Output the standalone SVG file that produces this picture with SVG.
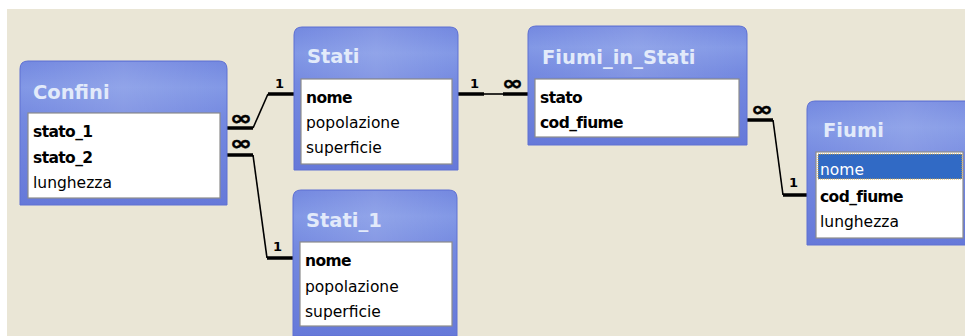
<svg xmlns="http://www.w3.org/2000/svg" width="965" height="336" viewBox="0 0 965 336">
  <defs>
    <linearGradient id="frameGrad" x1="0" y1="0" x2="0" y2="1">
      <stop offset="0" stop-color="#7388E0"/>
      <stop offset="0.18" stop-color="#8298E6"/>
      <stop offset="0.4" stop-color="#7489E0"/>
      <stop offset="1" stop-color="#6679D9"/>
    </linearGradient>
    <linearGradient id="sheen" x1="0" y1="0" x2="1" y2="0">
      <stop offset="0" stop-color="#ffffff" stop-opacity="0"/>
      <stop offset="0.5" stop-color="#ffffff" stop-opacity="0.12"/>
      <stop offset="1" stop-color="#ffffff" stop-opacity="0"/>
    </linearGradient>
  </defs>
  <style>
    .bg { fill: #EAE6D6; }
    .frame { fill: url(#frameGrad); stroke: #5F70D2; stroke-width: 1; }
    .sheen { fill: url(#sheen); }
    .list { fill: #FFFFFF; stroke: #8C8C8C; stroke-width: 1.2; }
    .title { font-family: "DejaVu Sans", sans-serif; font-weight: bold; font-size: 19.5px; fill: #E2EAFA; }
    .f { font-family: "DejaVu Sans", sans-serif; font-size: 15.5px; fill: #000; }
    .k { font-weight: bold; letter-spacing: -0.6px; }
    .sel { fill: #316AC5; stroke: #D9A53A; stroke-width: 1; stroke-dasharray: 1 1; }
    .selt { fill: #FFFFFF; }
    .thick { stroke: #000; stroke-width: 3.5; fill: none; }
    .thin { stroke: #000; stroke-width: 1.6; fill: none; }
    .card { font-family: "DejaVu Sans", sans-serif; font-weight: bold; font-size: 13px; fill: #000; }
    .inf { font-family: "DejaVu Sans", sans-serif; font-weight: bold; font-size: 20px; fill: #000; stroke: #000; stroke-width: 0.5; }
  </style>

  <!-- canvas -->
  <rect x="0" y="0" width="965" height="336" fill="#FFFFFF"/>
  <rect class="bg" x="7" y="9" width="958" height="327"/>

  <!-- relationship lines -->
  <g id="connectors">
    <!-- Confini.stato_1 -> Stati.nome -->
    <path class="thick" d="M227,128 H253"/>
    <path class="thin" d="M253,128 L268,94"/>
    <path class="thick" d="M268,94 H294"/>
    <text class="inf" x="230" y="125" textLength="22" lengthAdjust="spacingAndGlyphs">∞</text>
    <text class="card" x="275" y="88">1</text>

    <!-- Confini.stato_2 -> Stati_1.nome -->
    <path class="thick" d="M227,155 H253"/>
    <path class="thin" d="M253,155 L267,258"/>
    <path class="thick" d="M267,258 H293"/>
    <text class="inf" x="230" y="150" textLength="22" lengthAdjust="spacingAndGlyphs">∞</text>
    <text class="card" x="273" y="251">1</text>

    <!-- Stati.nome -> Fiumi_in_Stati.stato -->
    <path class="thick" d="M458,94 H484"/>
    <path class="thin" d="M484,94 H503"/>
    <path class="thick" d="M503,94 H528"/>
    <text class="card" x="470" y="88">1</text>
    <text class="inf" x="502" y="90" textLength="21" lengthAdjust="spacingAndGlyphs">∞</text>

    <!-- Fiumi_in_Stati.cod_fiume -> Fiumi.cod_fiume -->
    <path class="thick" d="M747,120 H773"/>
    <path class="thin" d="M773,120 L783,195"/>
    <path class="thick" d="M783,195 H807"/>
    <text class="inf" x="751" y="116" textLength="22" lengthAdjust="spacingAndGlyphs">∞</text>
    <text class="card" x="789" y="187">1</text>
  </g>

  <!-- Confini -->
  <g id="confini">
    <path class="frame" d="M20,69 Q20,61 28,61 H219 Q227,61 227,69 V205 H20 Z"/>
    <rect class="sheen" x="20" y="62" width="207" height="50"/>
    <rect class="list" x="28" y="113" width="192" height="85"/>
    <text class="title" x="33" y="99">Confini</text>
    <text class="f k" x="33" y="137">stato_1</text>
    <text class="f k" x="33" y="163">stato_2</text>
    <text class="f" x="33" y="188">lunghezza</text>
  </g>

  <!-- Stati -->
  <g id="stati">
    <path class="frame" d="M294,35 Q294,27 302,27 H450 Q458,27 458,35 V170 H294 Z"/>
    <rect class="sheen" x="294" y="28" width="164" height="50"/>
    <rect class="list" x="301" y="79" width="151" height="85"/>
    <text class="title" x="307" y="63">Stati</text>
    <text class="f k" x="306" y="103">nome</text>
    <text class="f" x="306" y="128">popolazione</text>
    <text class="f" x="306" y="153">superficie</text>
  </g>

  <!-- Stati_1 -->
  <g id="stati_1">
    <path class="frame" d="M293,198 Q293,190 301,190 H449 Q457,190 457,198 V336 H293 Z"/>
    <rect class="sheen" x="293" y="191" width="164" height="50"/>
    <rect class="list" x="300" y="242" width="152" height="84"/>
    <text class="title" x="306" y="227">Stati_1</text>
    <text class="f k" x="305" y="266">nome</text>
    <text class="f" x="305" y="292">popolazione</text>
    <text class="f" x="305" y="317">superficie</text>
  </g>

  <!-- Fiumi_in_Stati -->
  <g id="fiumi_in_stati">
    <path class="frame" d="M528,34 Q528,26 536,26 H739 Q747,26 747,34 V145 H528 Z"/>
    <rect class="sheen" x="528" y="27" width="219" height="50"/>
    <rect class="list" x="535" y="79" width="204" height="58"/>
    <text class="title" x="542" y="64">Fiumi_in_Stati</text>
    <text class="f k" x="540" y="103">stato</text>
    <text class="f k" x="540" y="128">cod_fiume</text>
  </g>

  <!-- Fiumi -->
  <g id="fiumi">
    <path class="frame" d="M807,109 Q807,101 815,101 H990 V245 H807 Z"/>
    <rect class="sheen" x="807" y="102" width="200" height="50"/>
    <rect class="list" x="816" y="152" width="147" height="86"/>
    <rect class="sel" x="818" y="154" width="144" height="25"/>
    <text class="title" x="823" y="137">Fiumi</text>
    <text class="f selt" x="820" y="175">nome</text>
    <text class="f k" x="820" y="202">cod_fiume</text>
    <text class="f" x="820" y="227">lunghezza</text>
  </g>
</svg>
